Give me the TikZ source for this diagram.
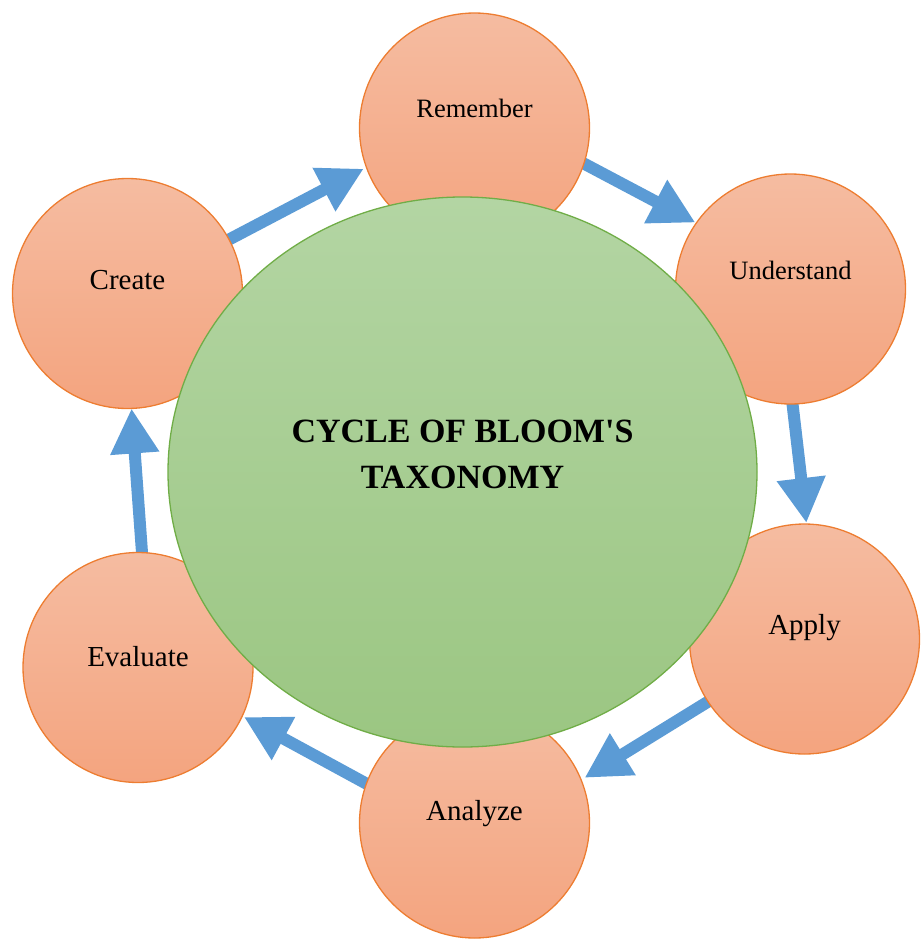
\documentclass[tikz,border=0pt]{standalone}
\usepackage{fontspec}
\setmainfont{Liberation Serif}
\usepackage{tikz}
\usetikzlibrary{shapes.geometric}
\usetikzlibrary{arrows.meta}
\usetikzlibrary{backgrounds}

\definecolor{petaltop}{HTML}{F5BCA1}
\definecolor{petalbot}{HTML}{F4A47F}
\definecolor{petalline}{HTML}{ED7D31}
\definecolor{coretop}{HTML}{B3D5A3}
\definecolor{corebot}{HTML}{9BC682}
\definecolor{coreline}{HTML}{70AD47}
\definecolor{flowblue}{HTML}{5B9BD5}

\newcommand{\lifted}[2]{\raisebox{#1}[0pt][0pt]{#2}}

\begin{document}
\begin{tikzpicture}[x=1pt,y=-1pt,
	stage/.style={circle,draw=petalline,line width=1.3pt,top color=petaltop,bottom color=petalbot,
		minimum size=230pt,inner sep=0pt,outer sep=0pt,font=\fontsize{29}{34}\selectfont},
	core/.style={ellipse,draw=coreline,line width=1.3pt,top color=coretop,bottom color=corebot,
		minimum width=589pt,minimum height=550pt,inner sep=0pt,outer sep=0pt,font=\fontsize{34}{46}\selectfont\bfseries},
	flow/.style={draw=flowblue,line width=12pt,-{Triangle[width=46pt,length=45pt]},shorten <=-10pt}
	]
	\useasboundingbox (0,0) rectangle (922,940);
	% the six stages
	\node[stage] (remember) at (474.5,128) {\lifted{11pt}{\fontsize{26.5}{30}\selectfont Remember}};
	\node[stage] (understand) at (790.5,289) {\lifted{10pt}{\fontsize{26.5}{30}\selectfont Understand}};
	\node[stage] (apply) at (804.5,639) {\lifted{5pt}{Apply}};
	\node[stage] (analyze) at (474.5,823) {\lifted{3pt}{Analyze}};
	\node[stage] (evaluate) at (138,667.5) {\lifted{1.5pt}{Evaluate}};
	\node[stage] (create) at (127.5,293.5) {\lifted{4.5pt}{Create}};
	% centre
	\node[core] (bloom) at (462.5,472) {\raisebox{16pt}[\height][\depth]{\begin{tabular}{c}CYCLE OF BLOOM\textquotesingle S\\TAXONOMY\end{tabular}}};
	% arrows
	\begin{scope}[on background layer]
		\draw[flow,shorten >=3pt] (create.28) -- (remember.200);
		\draw[flow,shorten >=1pt] (remember.-18) -- (understand.145);
		\draw[flow,shorten >=1pt] (understand.-89) -- (apply.89);
		\draw[flow,shorten >=4pt] (apply.213) -- (analyze.22);
		\draw[flow,shorten >=2pt] (analyze.160) -- (evaluate.-25);
		\draw[flow,shorten >=0pt] (evaluate.88) -- (create.-88);
	\end{scope}
\end{tikzpicture}
\end{document}
